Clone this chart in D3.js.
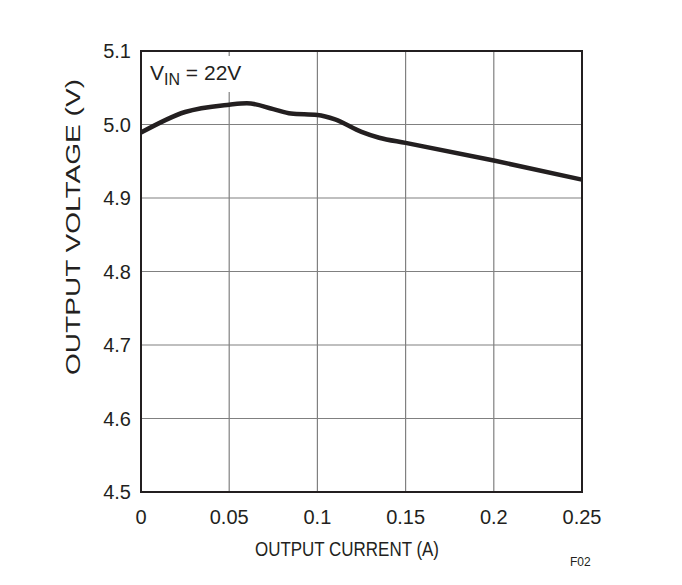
<!DOCTYPE html>
<html>
<head>
<meta charset="utf-8">
<script src="https://cdn.jsdelivr.net/npm/d3@7"></script>
<style>
body { margin: 0; background: #fff; }
svg text { font-family: "Liberation Sans Narrow", "Arial Narrow", "Liberation Sans", sans-serif; fill: #231f20; }
</style>
</head>
<body>
<svg id="chart" width="682" height="585"></svg>
<script>
// output current (A) vs output voltage (V)
const currents = [0, 0.025, 0.05, 0.06, 0.075, 0.085, 0.1, 0.11, 0.125, 0.135, 0.15, 0.2, 0.25];
const voltages = [4.989, 5.017, 5.027, 5.029, 5.021, 5.015, 5.013, 5.007, 4.990, 4.982, 4.975, 4.951, 4.925];
const xTicks = [0, 0.05, 0.1, 0.15, 0.2, 0.25];
const yTicks = [4.5, 4.6, 4.7, 4.8, 4.9, 5.0, 5.1];

const svg = d3.select('#chart');
const x = d3.scaleLinear().domain([0, 0.25]).range([141, 582]);
const y = d3.scaleLinear().domain([4.5, 5.1]).range([492, 51]);

const grid = svg.append('g');
grid.selectAll('.vx').data(xTicks).enter().append('line')
    .attr('x1', d => x(d)).attr('x2', d => x(d))
    .attr('y1', y(4.5)).attr('y2', y(5.1))
    .attr('stroke', '#808080').attr('stroke-width', 1.2);
grid.selectAll('.hy').data(yTicks).enter().append('line')
    .attr('x1', x(0)).attr('x2', x(0.25))
    .attr('y1', d => y(d)).attr('y2', d => y(d))
    .attr('stroke', '#808080').attr('stroke-width', 1.2);

// plot frame
svg.append('rect')
    .attr('x', x(0)).attr('y', y(5.1))
    .attr('width', x(0.25) - x(0)).attr('height', y(4.5) - y(5.1))
    .attr('fill', 'none').attr('stroke', '#231f20').attr('stroke-width', 2);

// white box behind the label
svg.append('rect').attr('x', 146).attr('y', 56).attr('width', 96).attr('height', 36).attr('fill', '#fff');

svg.append('path')
    .datum(currents.map((c, i) => [c, voltages[i]]))
    .attr('d', d3.line().x(d => x(d[0])).y(d => y(d[1])).curve(d3.curveMonotoneX))
    .attr('fill', 'none').attr('stroke', '#231f20').attr('stroke-width', 4.5);

svg.selectAll('.xl').data(xTicks).enter().append('text')
    .attr('x', d => x(d)).attr('y', 524)
    .attr('text-anchor', 'middle').attr('font-size', 20)
    .text(d => d === 0 ? '0' : String(d));
svg.selectAll('.yl').data(yTicks).enter().append('text')
    .attr('x', 131).attr('y', d => y(d) + 7)
    .attr('text-anchor', 'end').attr('font-size', 20)
    .text(d => d.toFixed(1));

svg.append('text').attr('x', 255).attr('y', 556)
    .attr('font-size', 21).attr('textLength', 184).attr('lengthAdjust', 'spacingAndGlyphs')
    .text('OUTPUT CURRENT (A)');
svg.append('text').attr('transform', `translate(80,375) rotate(-90)`)
    .attr('font-size', 21).attr('textLength', 296).attr('lengthAdjust', 'spacingAndGlyphs')
    .text('OUTPUT VOLTAGE (V)');

const lab = svg.append('text').attr('x', 150).attr('y', 80).attr('font-size', 21);
lab.append('tspan').text('V');
lab.append('tspan').attr('font-size', 16).attr('dy', 5).text('IN');
lab.append('tspan').attr('dy', -5).text(' = 22V');

svg.append('text').attr('x', 570).attr('y', 566).attr('font-size', 12).text('F02');
</script>
</body>
</html>
